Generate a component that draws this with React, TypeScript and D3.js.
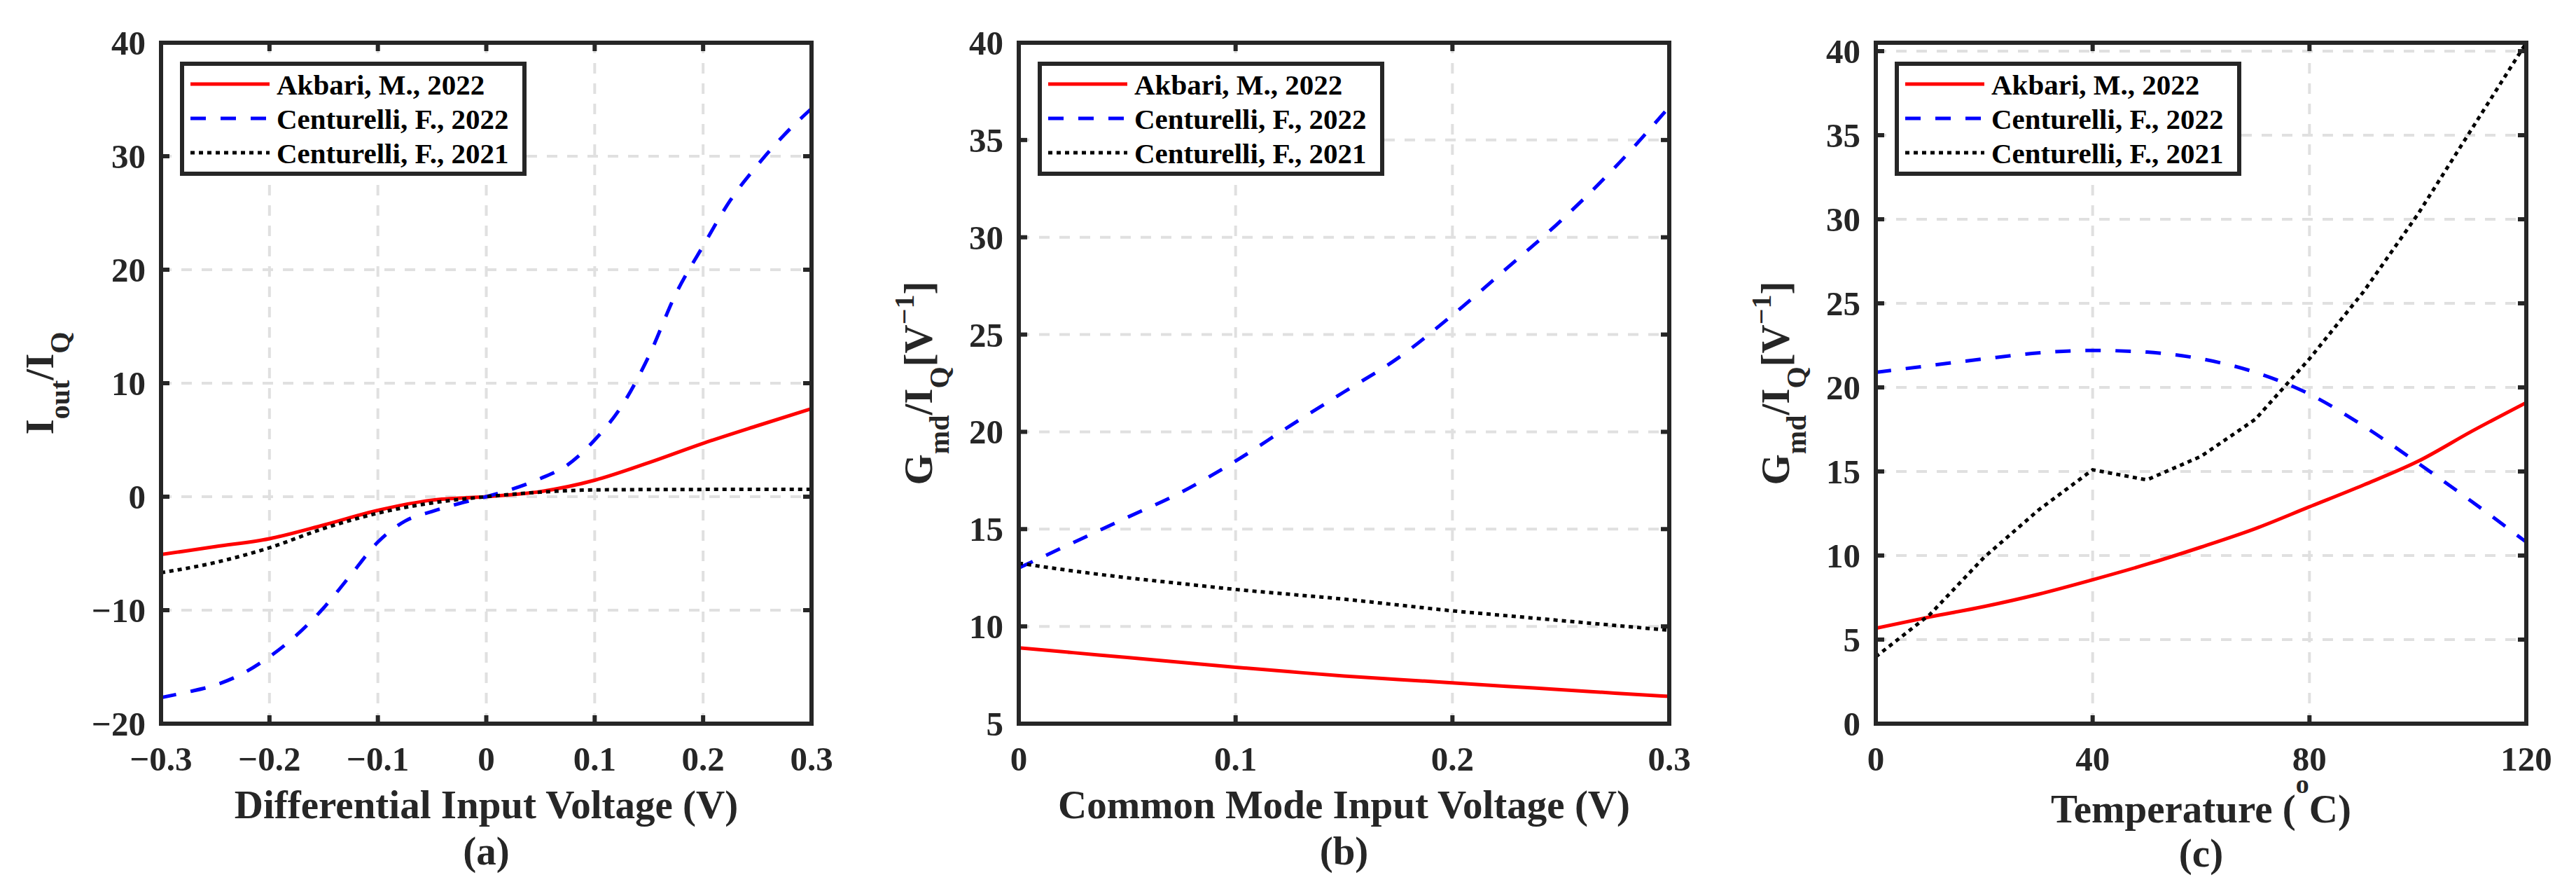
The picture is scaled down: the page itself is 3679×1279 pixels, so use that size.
import * as d3 from "d3";
import { useEffect, useRef } from "react";

// ---- data ----
const seriesNames = ["Akbari, M., 2022", "Centurelli, F., 2022", "Centurelli, F., 2021"];

// (a) differential input voltage
const aX = [-0.3, -0.25, -0.2, -0.15, -0.1, -0.05, 0, 0.05, 0.1, 0.15, 0.2, 0.25, 0.3];
const aAkbari = [-5.1, -4.4, -3.7, -2.5, -1.2, -0.3, 0, 0.45, 1.45, 3.0, 4.7, 6.25, 7.75];
const aCent21 = [-6.7, -5.8, -4.5, -2.8, -1.45, -0.55, 0, 0.4, 0.6, 0.63, 0.64, 0.65, 0.65];
const aXBlue = [
  -0.3, -0.275, -0.25, -0.225, -0.2, -0.175, -0.15, -0.125, -0.1, -0.075, -0.05, -0.025, 0,
  0.025, 0.05, 0.075, 0.1, 0.125, 0.15, 0.175, 0.2, 0.225, 0.25, 0.275, 0.3,
];
const aCent22 = [
  -17.7, -17.2, -16.6, -15.6, -14.1, -12.2, -9.8, -6.9, -4.0, -2.15, -1.3, -0.6, 0,
  0.7, 1.6, 2.8, 5.0, 8.0, 12.4, 17.9, 22.1, 26.1, 29.2, 31.9, 34.2,
];

// (b) common mode input voltage
const bX = [0, 0.025, 0.05, 0.075, 0.1, 0.125, 0.15, 0.175, 0.2, 0.225, 0.25, 0.275, 0.3];
const bAkbari = [8.9, 8.65, 8.4, 8.15, 7.9, 7.67, 7.45, 7.27, 7.1, 6.92, 6.75, 6.57, 6.4];
const bCent22 = [13.0, 14.3, 15.6, 16.9, 18.5, 20.3, 22.05, 23.8, 26.0, 28.4, 30.85, 33.6, 36.7];
const bCent21 = [13.25, 12.85, 12.5, 12.2, 11.9, 11.65, 11.4, 11.1, 10.8, 10.55, 10.3, 10.05, 9.8];

// (c) temperature
const cX = [0, 10, 20, 30, 40, 50, 60, 70, 80, 90, 100, 110, 120];
const cAkbari = [5.67, 6.35, 6.97, 7.7, 8.56, 9.48, 10.5, 11.6, 12.9, 14.2, 15.6, 17.4, 19.1];
const cCent22 = [20.9, 21.3, 21.7, 22.05, 22.2, 22.1, 21.7, 20.9, 19.6, 17.7, 15.5, 13.2, 10.8];
const cCent21 = [3.98, 6.5, 9.9, 12.7, 15.1, 14.5, 15.9, 18.1, 21.7, 25.7, 30.3, 35.4, 40.5];

const aXTicks = [-0.3, -0.2, -0.1, 0, 0.1, 0.2, 0.3];
const aYTicks = [-20, -10, 0, 10, 20, 30, 40];
const bXTicks = [0, 0.1, 0.2, 0.3];
const bYTicks = [5, 10, 15, 20, 25, 30, 35, 40];
const cXTicks = [0, 40, 80, 120];
const cYTicks = [0, 5, 10, 15, 20, 25, 30, 35, 40];

// ---- styling ----
const INK = "#262626";
const FONT = "'Liberation Serif', 'Times New Roman', serif";
const TOP = 61;
const BOTTOM = 1033;
const PW = 929;
const styles = [
  { color: "#ff0000", dash: null, width: 5 },
  { color: "#0000ff", dash: "22,21", width: 5 },
  { color: "#000000", dash: "6,6", width: 5 },
];

const fmt = (v: number) => (v < 0 ? "\u2212" + String(-v) : String(v));

type Panel = {
  left: number;
  xDomain: [number, number];
  yDomain: [number, number];
  xTicks: number[];
  yTicks: number[];
  series: { x: number[]; y: number[]; curve: d3.CurveFactory }[];
  xLabel: (string | [string, "sup"])[];
  caption: string;
  yLabel: "iout" | "gmd";
  yLabelOffset: number;
};

const panels: Panel[] = [
  {
    left: 230,
    xDomain: [-0.3, 0.3],
    yDomain: [-20, 40],
    xTicks: aXTicks,
    yTicks: aYTicks,
    series: [
      { x: aX, y: aAkbari, curve: d3.curveMonotoneX },
      { x: aXBlue, y: aCent22, curve: d3.curveMonotoneX },
      { x: aX, y: aCent21, curve: d3.curveMonotoneX },
    ],
    xLabel: ["Differential Input Voltage (V)"],
    caption: "(a)",
    yLabel: "iout",
    yLabelOffset: 154,
  },
  {
    left: 1455,
    xDomain: [0, 0.3],
    yDomain: [5, 40],
    xTicks: bXTicks,
    yTicks: bYTicks,
    series: [
      { x: bX, y: bAkbari, curve: d3.curveMonotoneX },
      { x: bX, y: bCent22, curve: d3.curveMonotoneX },
      { x: bX, y: bCent21, curve: d3.curveMonotoneX },
    ],
    xLabel: ["Common Mode Input Voltage (V)"],
    caption: "(b)",
    yLabel: "gmd",
    yLabelOffset: 124,
  },
  {
    left: 2679,
    xDomain: [0, 120],
    yDomain: [0, 40.5],
    xTicks: cXTicks,
    yTicks: cYTicks,
    series: [
      { x: cX, y: cAkbari, curve: d3.curveMonotoneX },
      { x: cX, y: cCent22, curve: d3.curveMonotoneX },
      { x: cX, y: cCent21, curve: d3.curveLinear },
    ],
    xLabel: ["Temperature (", ["o", "sup"], "C)"],
    caption: "(c)",
    yLabel: "gmd",
    yLabelOffset: 124,
  },
];

function drawPanel(svg: d3.Selection<SVGSVGElement, unknown, null, undefined>, p: Panel, idx: number) {
  const x = d3.scaleLinear().domain(p.xDomain).range([p.left, p.left + PW]);
  const y = d3.scaleLinear().domain(p.yDomain).range([BOTTOM, TOP]);
  const g = svg.append("g");

  g.append("clipPath")
    .attr("id", `clip${idx}`)
    .append("rect")
    .attr("x", p.left)
    .attr("y", TOP - 3)
    .attr("width", PW)
    .attr("height", BOTTOM - TOP + 6);

  // grid
  const [x0, x1] = p.xDomain;
  const [y0, y1] = p.yDomain;
  g.selectAll(".gx")
    .data(p.xTicks.filter((t) => t > x0 && t < x1))
    .enter()
    .append("line")
    .attr("x1", (d) => x(d))
    .attr("x2", (d) => x(d))
    .attr("y1", BOTTOM)
    .attr("y2", TOP)
    .attr("stroke", "#e0e0e0")
    .attr("stroke-width", 4)
    .attr("stroke-dasharray", "15,14");
  g.selectAll(".gy")
    .data(p.yTicks.filter((t) => t > y0 && t < y1))
    .enter()
    .append("line")
    .attr("x1", p.left)
    .attr("x2", p.left + PW)
    .attr("y1", (d) => y(d))
    .attr("y2", (d) => y(d))
    .attr("stroke", "#e0e0e0")
    .attr("stroke-width", 4)
    .attr("stroke-dasharray", "15,14");

  // series
  p.series.forEach((s, i) => {
    const pts = s.x.map((v, k) => [v, s.y[k]] as [number, number]);
    const line = d3
      .line<[number, number]>()
      .x((d) => x(d[0]))
      .y((d) => y(d[1]))
      .curve(s.curve);
    g.append("path")
      .datum(pts)
      .attr("d", line)
      .attr("fill", "none")
      .attr("stroke", styles[i].color)
      .attr("stroke-width", styles[i].width)
      .attr("stroke-dasharray", styles[i].dash)
      .attr("clip-path", `url(#clip${idx})`);
  });

  // ticks (inward, all four sides)
  const tl = 12;
  p.xTicks.forEach((t) => {
    g.append("line").attr("x1", x(t)).attr("x2", x(t)).attr("y1", BOTTOM).attr("y2", BOTTOM - tl)
      .attr("stroke", INK).attr("stroke-width", 6);
    g.append("line").attr("x1", x(t)).attr("x2", x(t)).attr("y1", TOP).attr("y2", TOP + tl)
      .attr("stroke", INK).attr("stroke-width", 6);
  });
  p.yTicks.forEach((t) => {
    g.append("line").attr("x1", p.left).attr("x2", p.left + tl).attr("y1", y(t)).attr("y2", y(t))
      .attr("stroke", INK).attr("stroke-width", 6);
    g.append("line").attr("x1", p.left + PW).attr("x2", p.left + PW - tl).attr("y1", y(t)).attr("y2", y(t))
      .attr("stroke", INK).attr("stroke-width", 6);
  });

  // box
  g.append("rect")
    .attr("x", p.left)
    .attr("y", TOP)
    .attr("width", PW)
    .attr("height", BOTTOM - TOP)
    .attr("fill", "none")
    .attr("stroke", INK)
    .attr("stroke-width", 6);

  // tick labels
  const txt = g.append("g").attr("font-family", FONT).attr("font-weight", "bold").attr("fill", INK);
  txt.selectAll(".xl")
    .data(p.xTicks)
    .enter()
    .append("text")
    .attr("x", (d) => x(d))
    .attr("y", BOTTOM + 67)
    .attr("text-anchor", "middle")
    .attr("font-size", 49)
    .text((d) => fmt(d));
  txt.selectAll(".yl")
    .data(p.yTicks)
    .enter()
    .append("text")
    .attr("x", p.left - 22)
    .attr("y", (d) => y(d) + 17)
    .attr("text-anchor", "end")
    .attr("font-size", 49)
    .text((d) => fmt(d));

  // x label + caption
  const cx = p.left + PW / 2;
  const hasSup = p.xLabel.some((s) => Array.isArray(s));
  const xl = txt
    .append("text")
    .attr("x", cx)
    .attr("y", BOTTOM + 135 + (hasSup ? 6 : 0))
    .attr("text-anchor", "middle")
    .attr("font-size", 57);
  let raised = false;
  p.xLabel.forEach((part) => {
    if (Array.isArray(part)) {
      xl.append("tspan").attr("dy", -42).attr("font-size", 38).text(part[0]);
      raised = true;
    } else {
      xl.append("tspan").attr("dy", raised ? 42 : 0).text(part);
      raised = false;
    }
  });
  txt
    .append("text")
    .attr("x", cx)
    .attr("y", BOTTOM + 201 + (hasSup ? 3 : 0))
    .attr("text-anchor", "middle")
    .attr("font-size", 57)
    .text(p.caption);

  // y label (rotated)
  const yl = txt
    .append("text")
    .attr("transform", `translate(${p.left - p.yLabelOffset},${(TOP + BOTTOM) / 2}) rotate(-90)`)
    .attr("text-anchor", "middle")
    .attr("font-size", 57);
  const sub = (t: string, d: number) => {
    yl.append("tspan").attr("dy", d).attr("font-size", 40).text(t);
  };
  if (p.yLabel === "iout") {
    yl.append("tspan").text("I");
    sub("out", 23);
    yl.append("tspan").attr("dy", -23).text("/I");
    sub("Q", 23);
  } else {
    yl.append("tspan").text("G");
    sub("md", 24);
    yl.append("tspan").attr("dy", -24).text("/I");
    sub("Q", 24);
    yl.append("tspan").attr("dy", -24).text("[V");
    yl.append("tspan").attr("dy", -26).attr("font-size", 40).text("\u22121");
    yl.append("tspan").attr("dy", 26).text("]");
  }

  // legend
  const lx = p.left + 30;
  const lg = g.append("g");
  lg.append("rect")
    .attr("x", lx)
    .attr("y", 91)
    .attr("width", 489)
    .attr("height", 157)
    .attr("fill", "#ffffff")
    .attr("stroke", INK)
    .attr("stroke-width", 6);
  seriesNames.forEach((name, i) => {
    const ly = 120 + i * 49;
    lg.append("line")
      .attr("x1", lx + 12)
      .attr("x2", lx + 125)
      .attr("y1", ly)
      .attr("y2", ly)
      .attr("stroke", styles[i].color)
      .attr("stroke-width", styles[i].width)
      .attr("stroke-dasharray", styles[i].dash);
    lg.append("text")
      .attr("x", lx + 135)
      .attr("y", ly + 15)
      .attr("font-family", FONT)
      .attr("font-weight", "bold")
      .attr("font-size", 41)
      .attr("fill", "#000000")
      .text(name);
  });
}

export default function App() {
  const ref = useRef<SVGSVGElement>(null);
  useEffect(() => {
    if (!ref.current) return;
    const svg = d3.select(ref.current);
    svg.selectAll("*").remove();
    panels.forEach((p, i) => drawPanel(svg, p, i));
  }, []);
  return (
    <svg
      ref={ref}
      width={3679}
      height={1279}
      style={{ position: "absolute", left: 0, top: 0, background: "#ffffff" }}
    />
  );
}
